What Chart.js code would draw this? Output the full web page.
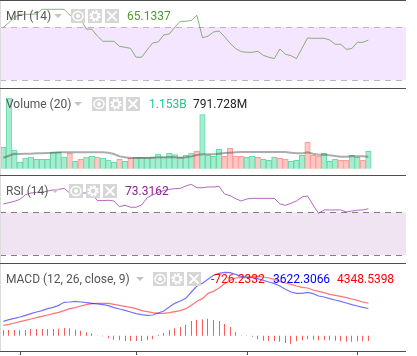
<!DOCTYPE html>
<html>
<head>
<meta charset="utf-8">
<script src="https://cdn.jsdelivr.net/npm/chart.js@4"></script>
<style>
  html, body { margin: 0; padding: 0; background: #fff; overflow: hidden; }
  body { position: relative; width: 417px; height: 356px; font-family: Roboto, sans-serif; font-size: 12px; }
  canvas { position: absolute; left: 0; }
  .rule { position: absolute; left: 0; width: 406px; height: 1px; background: #4f4f4f; }
  .edge { position: absolute; left: 0; top: 0; width: 1px; height: 352px; background: #dcdcdc; }
  .txt { position: absolute; white-space: nowrap; line-height: 16px; }
  .arrow { position: absolute; width: 0; height: 0; border-left: 4px solid transparent; border-right: 4px solid transparent; border-top: 4px solid #c4c4c4; }
  .icon { position: absolute; width: 14px; height: 14px; background: #d6d6d6; }
  .icon svg { display: block; }
</style>
</head>
<body>
<canvas id="mfiChart" width="406" height="87" style="top:1px"></canvas>
<canvas id="volumeChart" width="406" height="86" style="top:89px"></canvas>
<canvas id="rsiChart" width="406" height="87" style="top:176px"></canvas>
<canvas id="macdChart" width="406" height="92" style="top:264px"></canvas>
<div class="edge"></div>
<div id="rules"></div>
<div id="legends"></div>
<script>
// Values, one per candle
const mfiValues = [79.6, 84.9, 90.9, 94.3, 94.3, 94.3, 94.7, 100, 100, 100, 100, 100, 93.6, 88.7, 88.7, 77.7, 77.4, 69.8, 63.8, 63.8, 63.8, 58.1, 57, 55.8, 45.7, 45.7, 54, 61.9, 63, 70.9, 72.1, 79.6, 86.4, 86.4, 87.5, 93.2, 67.9, 69.5, 74.3, 75.5, 69, 61.5, 55.5, 52.1, 51.3, 51.3, 52.5, 47.9, 45.7, 44.2, 55.1, 49.1, 47.5, 44.2, 55.8, 67.5, 67.2, 67.2, 67.2, 65.3, 60.4, 60.4, 54.7, 55.5, 62.6, 62.6, 65.13];

const volumeValues = [1421, 4706, 1243, 444, 710, 777, 622, 622, 622, 1088, 1088, 777, 1043, 488, 622, 777, 821, 755, 688, 577, 444, 622, 488, 710, 755, 755, 755, 755, 977, 777, 1021, 932, 755, 888, 1043, 1154, 3596, 910, 821, 1288, 821, 1354, 821, 821, 755, 821, 755, 622, 555, 755, 688, 622, 488, 555, 888, 1754, 888, 821, 1021, 488, 622, 555, 555, 888, 755, 555, 1153];
const volumeDown = [12, 14, 17, 21, 23, 35, 40, 41, 42, 43, 46, 50, 51, 55, 56, 57, 61, 62, 65];
const volumeMa = [733, 866, 999, 977, 999, 999, 1021, 1021, 1043, 1066, 1088, 1088, 1088, 1088, 1088, 1088, 1088, 1088, 1088, 1066, 977, 821, 755, 710, 710, 710, 710, 733, 755, 755, 777, 755, 733, 755, 821, 910, 955, 955, 955, 999, 1043, 1066, 1088, 1110, 1110, 1110, 1110, 1110, 1110, 1110, 1110, 1110, 1066, 1021, 1021, 1088, 999, 932, 932, 888, 844, 799, 799, 821, 821, 821, 791.7];

const rsiValues = [77.8, 79, 80.2, 82.1, 86.4, 88, 88.6, 88.6, 89.8, 90.8, 91.4, 92.3, 88, 88, 88, 88, 87.7, 80.9, 80.9, 81.2, 80.5, 75.3, 76.5, 74.7, 74.7, 76.8, 83.6, 86.1, 88.6, 90.2, 91.4, 92, 92.3, 94.5, 96, 92.9, 92.9, 93.6, 93.6, 94.2, 87, 85.5, 82.7, 80.5, 82.4, 83, 83, 83, 83, 83, 77.8, 76.5, 78.4, 80.5, 84.3, 85.2, 76.8, 69.1, 72.2, 72.2, 72.2, 72.2, 70.3, 71.2, 71.9, 72.2, 73.3];

const macdValues = [1914, 2136, 2314, 2492, 2715, 2937, 3160, 3338, 3605, 3783, 4050, 4450, 4495, 4584, 4495, 4406, 4317, 4228, 4139, 4005, 3738, 3560, 3382, 3160, 2937, 2804, 2715, 2759, 3026, 3293, 3827, 4317, 4628, 4984, 5830, 6631, 6987, 7521, 8055, 8322, 8455, 8411, 8188, 7921, 7832, 7743, 7610, 7387, 7165, 6942, 6631, 6186, 5830, 5652, 5652, 5785, 5607, 5296, 5162, 4940, 4762, 4584, 4361, 4139, 3961, 3783, 3622];
const signalValues = [1380, 1513, 1691, 1869, 2047, 2225, 2403, 2581, 2759, 2937, 3115, 3338, 3605, 3738, 3961, 4139, 4272, 4317, 4317, 4317, 4183, 4050, 3916, 3783, 3605, 3338, 3204, 3071, 2982, 2982, 3071, 3204, 3338, 3605, 4050, 4584, 4940, 5652, 5919, 6364, 6942, 7387, 7699, 7743, 7788, 7877, 7921, 7832, 7699, 7521, 7254, 7031, 6853, 6631, 6453, 6364, 6097, 5919, 5741, 5518, 5385, 5251, 5073, 4895, 4717, 4495, 4349];
const histValues = [757, 757, 757, 757, 757, 890, 890, 890, 890, 890, 935, 1024, 979, 801, 668, 445, 312, -60, -89, -356, -534, -623, -712, -712, -712, -712, -623, -490, 89, 356, 757, 979, 1157, 1469, 1958, 2136, 2181, 2270, 2092, 1958, 1558, 1157, 490, 45, -45, -134, -490, -668, -712, -712, -801, -979, -1068, -757, -623, -490, -534, -623, -579, -623, -668, -757, -801, -801, -757, -757, -726];

const tickIndexes = [3, 24, 44, 64];
const mfiBand = [20, 80];
const rsiBand = [30, 70];

const candleIndex = mfiValues.map((v, i) => i);
const xRange = { min: -0.6, max: 72.8 };

// Shaded band with dashed limits, placed through the pane's y scale
const bandPlugin = {
  id: 'band',
  beforeDatasetsDraw(chart, args, opts) {
    if (!opts.values) return;
    const { ctx, chartArea, scales } = chart;
    const top = scales.y.getPixelForValue(opts.values[1]);
    const bottom = scales.y.getPixelForValue(opts.values[0]);
    ctx.save();
    ctx.fillStyle = opts.fill;
    ctx.fillRect(chartArea.left, top, chartArea.width, bottom - top);
    ctx.strokeStyle = opts.line;
    ctx.setLineDash([6, 5]);
    [top, bottom].forEach(y => {
      ctx.beginPath();
      ctx.moveTo(chartArea.left, Math.round(y) + 0.5);
      ctx.lineTo(chartArea.right, Math.round(y) + 0.5);
      ctx.stroke();
    });
    ctx.restore();
  }
};

// Time ticks under the last pane, and 1px histogram bars snapped to whole pixels
const tickPlugin = {
  id: 'timeTicks',
  beforeDatasetsDraw(chart, args, opts) {
    if (!opts.values) return;
    chart.getDatasetMeta(2).data.forEach(bar => { bar.x = Math.round(bar.x - 0.5) + 0.5; });
  },
  afterDraw(chart, args, opts) {
    if (!opts.values) return;
    const { ctx, chartArea, scales } = chart;
    ctx.save();
    ctx.strokeStyle = '#4f4f4f';
    opts.values.forEach(value => {
      const x = Math.round(scales.x.getPixelForValue(value)) + 0.5;
      ctx.beginPath();
      ctx.moveTo(x, chartArea.bottom + 1);
      ctx.lineTo(x, chartArea.bottom + 4);
      ctx.stroke();
    });
    ctx.restore();
  }
};

function line(data, color, width) {
  return { type: 'line', data, borderColor: color, borderWidth: width, pointRadius: 0, tension: 0 };
}

function makePane(id, datasets, yMin, yMax, band, ticks, bottomPad) {
  return new Chart(document.getElementById(id), {
    type: 'bar',
    plugins: [bandPlugin, tickPlugin],
    data: { labels: candleIndex, datasets },
    options: {
      responsive: false,
      animation: false,
      events: [],
      layout: { padding: { left: 0, right: 0, top: 0, bottom: bottomPad || 0 } },
      plugins: {
        legend: { display: false },
        tooltip: { enabled: false },
        band: band || {},
        timeTicks: ticks || {}
      },
      scales: {
        x: { type: 'linear', display: false, offset: false, min: xRange.min, max: xRange.max, grid: { offset: false } },
        y: { display: false, min: yMin, max: yMax }
      }
    }
  });
}

makePane('mfiChart', [line(mfiValues, 'rgba(80,140,50,0.65)', 1)], 10.9, 109.4,
  { values: mfiBand, fill: '#f4e6fe', line: '#bfb1c7' });

makePane('volumeChart', [
  line(volumeMa, 'rgba(70,70,70,0.45)', 2),
  {
    data: volumeValues,
    barThickness: 5.5,
    borderWidth: 1,
    backgroundColor: volumeValues.map((v, i) => volumeDown.includes(i) ? '#ffc8c4' : '#a6ecce'),
    borderColor: volumeValues.map((v, i) => volumeDown.includes(i) ? '#ff9c96' : '#62dba8')
  }
], -420, 5308);

makePane('rsiChart', [line(rsiValues, 'rgba(150,40,165,0.7)', 1)], 22.8, 103.8,
  { values: rsiBand, fill: '#f1e4f2', line: '#8a7a88' });

makePane('macdChart', [
  line(macdValues, 'rgba(0,0,255,0.55)', 1.2),
  line(signalValues, 'rgba(255,0,0,0.55)', 1.2),
  { data: histValues, barThickness: 1, inflateAmount: 0, backgroundColor: '#ff5a5a' }
], -2047, 9568, null, { values: tickIndexes }, 5);

// Pane separators
document.getElementById('rules').innerHTML = [0, 88, 175, 263, 351]
  .map(y => '<div class="rule" style="top:' + y + 'px"></div>').join('');

// Legend rows
const glyphs = [
  '<ellipse cx="7" cy="7" rx="5" ry="4.5" fill="none" stroke="#fff" stroke-width="1.5"/><circle cx="7" cy="7" r="2" fill="#fff"/>',
  '<circle cx="7" cy="7" r="3.2" fill="none" stroke="#fff" stroke-width="1.6"/><circle cx="7" cy="7" r="4.6" fill="none" stroke="#fff" stroke-width="2.2" stroke-dasharray="2.2 1.4"/>',
  '<path d="M2.5 2.5 L11.5 11.5 M11.5 2.5 L2.5 11.5" stroke="#fff" stroke-width="1.8"/>'
];
const legendRows = [
  { name: 'MFI (14)', y: 8, arrow: 54, icons: [71, 88, 105], values: [['65.1337', 127, '#4f9a2c']] },
  { name: 'Volume (20)', y: 96, arrow: 74, icons: [92, 109, 126], values: [['1.153B', 149, '#1dc98b'], ['791.728M', 193, '#222']] },
  { name: 'RSI (14)', y: 183, arrow: 51, icons: [69, 86, 103], values: [['73.3162', 125, '#8c1f95']] },
  { name: 'MACD (12, 26, close, 9)', y: 271, arrow: 136, icons: [153, 170, 187], values: [['-726.2332', 211, '#f00'], ['3622.3066', 273, '#00f'], ['4348.5398', 337, '#f00']] }
];
document.getElementById('legends').innerHTML = legendRows.map(row => {
  let html = '<div class="txt" style="left:6px;top:' + row.y + 'px;color:#555">' + row.name + '</div>';
  html += '<div class="arrow" style="left:' + row.arrow + 'px;top:' + (row.y + 6) + 'px"></div>';
  row.icons.forEach((x, i) => {
    html += '<div class="icon" style="left:' + x + 'px;top:' + (row.y + 1) + 'px"><svg width="14" height="14">' + glyphs[i] + '</svg></div>';
  });
  row.values.forEach(v => {
    html += '<div class="txt" style="left:' + v[1] + 'px;top:' + row.y + 'px;color:' + v[2] + '">' + v[0] + '</div>';
  });
  return html;
}).join('');
</script>
</body>
</html>
